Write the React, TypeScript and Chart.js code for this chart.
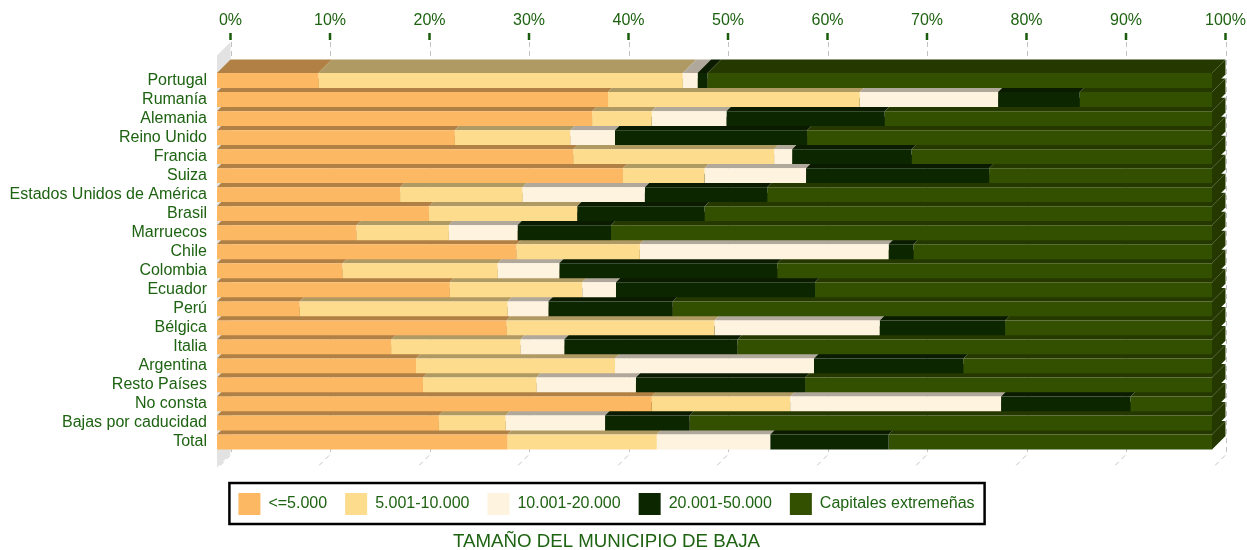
import React, { useEffect, useRef } from 'react';
import { Chart, registerables } from 'chart.js';

Chart.register(...registerables);

const categories = [
  'Portugal', 'Rumanía', 'Alemania', 'Reino Unido', 'Francia', 'Suiza',
  'Estados Unidos de América', 'Brasil', 'Marruecos', 'Chile', 'Colombia',
  'Ecuador', 'Perú', 'Bélgica', 'Italia', 'Argentina', 'Resto Países',
  'No consta', 'Bajas por caducidad', 'Total',
];

const seriesNames = ['<=5.000', '5.001-10.000', '10.001-20.000', '20.001-50.000', 'Capitales extremeñas'];

const hasta5000 = [10.2, 39.3, 37.7, 23.9, 35.8, 40.8, 18.4, 21.3, 14.0, 30.1, 12.6, 23.4, 8.3, 29.1, 17.5, 20.0, 20.7, 43.7, 22.3, 29.2];
const de5001a10000 = [36.6, 25.3, 6.0, 11.6, 20.2, 8.2, 12.3, 14.9, 9.3, 12.4, 15.6, 13.3, 20.9, 20.9, 13.0, 20.0, 11.4, 13.9, 6.7, 15.0];
const de10001a20000 = [1.5, 13.9, 7.5, 4.5, 1.8, 10.2, 12.3, 0.0, 6.9, 25.0, 6.2, 3.4, 4.1, 16.6, 4.4, 20.0, 10.0, 21.2, 10.0, 11.4];
const de20001a50000 = [1.0, 8.2, 15.9, 19.3, 12.0, 18.4, 12.3, 12.8, 9.4, 2.5, 21.9, 20.0, 12.5, 12.6, 17.4, 15.0, 17.0, 13.0, 8.5, 11.9];
const capitales = [50.7, 13.3, 32.9, 40.7, 30.2, 22.4, 44.7, 51.0, 60.4, 30.0, 43.7, 39.9, 54.2, 20.8, 47.7, 25.0, 40.9, 8.2, 52.5, 32.5];

const xTickValues = [0, 10, 20, 30, 40, 50, 60, 70, 80, 90, 100];

const frontColors = ['#FDB863', '#FEDC8E', '#FEF3DF', '#0C2600', '#334F00'];
const topColors = ['#B08044', '#B09A63', '#B0A99B', '#0A1B00', '#243800'];
const sideColor = '#243800';
const textGreen = '#1e6312';
const tickGreen = '#1a5c0c';
const FONT = "'Liberation Sans', Arial, Helvetica, sans-serif";
const D = 13.5;

const depthPlugin = {
  id: 'depth3d',
  beforeDatasetsDraw(chart: any) {
    const { ctx, chartArea } = chart;
    const xs = chart.scales.x;
    const backTop = chartArea.top - 29;
    const backBottom = chartArea.bottom + 2.5;
    ctx.save();
    // left wall
    ctx.fillStyle = '#e2e2e2';
    ctx.beginPath();
    ctx.moveTo(chartArea.left, backTop + D);
    ctx.lineTo(chartArea.left + D, backTop);
    ctx.lineTo(chartArea.left + D, backBottom);
    ctx.lineTo(chartArea.left, backBottom + D);
    ctx.closePath();
    ctx.fill();
    // back wall grid + floor lines
    ctx.strokeStyle = '#c2c2c2';
    ctx.lineWidth = 1;
    ctx.setLineDash([5, 4]);
    xs.ticks.forEach((t: any) => {
      const x = Math.round(xs.getPixelForValue(t.value) + D) + 0.5;
      ctx.beginPath();
      ctx.moveTo(x, backTop);
      ctx.lineTo(x, backBottom);
      ctx.lineTo(x - D, backBottom + D);
      ctx.stroke();
    });
    ctx.setLineDash([]);
    // tick marks
    ctx.fillStyle = tickGreen;
    xs.ticks.forEach((t: any) => {
      const x = xs.getPixelForValue(t.value) + D;
      ctx.fillRect(x - 1.25, chartArea.top - 38, 2.5, 7);
    });
    // top faces
    const nds = chart.data.datasets.length;
    for (let di = 0; di < nds; di++) {
      const meta = chart.getDatasetMeta(di);
      meta.data.forEach((el: any) => {
        const p = el.getProps(['x', 'y', 'base', 'height'], true);
        const l = Math.min(p.x, p.base);
        const r = Math.max(p.x, p.base);
        if (r - l < 0.05) return;
        const t = p.y - p.height / 2;
        ctx.fillStyle = topColors[di];
        ctx.beginPath();
        ctx.moveTo(l, t);
        ctx.lineTo(r, t);
        ctx.lineTo(r + D, t - D);
        ctx.lineTo(l + D, t - D);
        ctx.closePath();
        ctx.fill();
      });
    }
    // right faces (last segment)
    const lastMeta = chart.getDatasetMeta(nds - 1);
    lastMeta.data.forEach((el: any) => {
      const p = el.getProps(['x', 'y', 'base', 'height'], true);
      const r = Math.max(p.x, p.base);
      const t = p.y - p.height / 2;
      const b = p.y + p.height / 2;
      ctx.fillStyle = sideColor;
      ctx.beginPath();
      ctx.moveTo(r, t);
      ctx.lineTo(r + D, t - D);
      ctx.lineTo(r + D, b - D);
      ctx.lineTo(r, b);
      ctx.closePath();
      ctx.fill();
    });
    ctx.restore();
  },
};

const legendBoxPlugin = {
  id: 'legendBox',
  afterDraw(chart: any) {
    const lg = chart.legend;
    const hb = lg && lg.legendHitBoxes;
    if (!hb || !hb.length) return;
    let l = Infinity, r = -Infinity, t = Infinity, b = -Infinity;
    hb.forEach((h: any) => {
      l = Math.min(l, h.left);
      r = Math.max(r, h.left + h.width);
      t = Math.min(t, h.top);
      b = Math.max(b, h.top + h.height);
    });
    const ctx = chart.ctx;
    ctx.save();
    ctx.strokeStyle = '#000000';
    ctx.lineWidth = 2.5;
    ctx.strokeRect(l - 9, t - 10, r - l + 19, b - t + 19);
    ctx.restore();
  },
};

export default function App() {
  const ref = useRef<HTMLCanvasElement | null>(null);

  useEffect(() => {
    if (!ref.current) return;
    const seriesData = [hasta5000, de5001a10000, de10001a20000, de20001a50000, capitales];
    const chart = new Chart(ref.current, {
      type: 'bar',
      data: {
        labels: categories,
        datasets: seriesData.map((d, i) => ({
          label: seriesNames[i],
          data: d,
          backgroundColor: frontColors[i],
          borderWidth: 0,
          barPercentage: 0.78,
          categoryPercentage: 1,
          stack: 's',
        })),
      },
      options: {
        indexAxis: 'y',
        responsive: false,
        maintainAspectRatio: false,
        animation: false,
        devicePixelRatio: 1,
        events: [],
        font: { family: FONT, size: 16 },
        layout: { padding: { left: 1, right: 35, top: 0, bottom: 0 } },
        scales: {
          x: {
            type: 'linear',
            position: 'top',
            stacked: true,
            min: 0,
            max: 100,
            afterBuildTicks: (s: any) => { s.ticks = xTickValues.map((v) => ({ value: v })); },
            ticks: {
              autoSkip: false,
              maxRotation: 0,
              minRotation: 0,
              labelOffset: D,
              padding: 41,
              color: textGreen,
              font: { family: FONT, size: 16 },
              callback: (v: any) => v + '%',
            },
            grid: { display: false, drawTicks: false },
            border: { display: false },
            afterFit: (s: any) => { s.height = 71; s.paddingLeft = 0; s.paddingRight = 0; },
          },
          y: {
            type: 'category',
            stacked: true,
            ticks: {
              autoSkip: false,
              padding: 10,
              color: textGreen,
              font: { family: FONT, size: 16 },
            },
            grid: { display: false, drawTicks: false },
            border: { display: false },
            afterFit: (s: any) => { s.width = 216; s.paddingTop = 0; s.paddingBottom = 0; },
          },
          floor: {
            type: 'linear',
            axis: 'x',
            position: 'bottom',
            min: 0,
            max: 100,
            display: true,
            ticks: { display: false },
            grid: { display: false, drawTicks: false },
            border: { display: false },
            afterFit: (s: any) => { s.height = 23.5; s.paddingLeft = 0; s.paddingRight = 0; },
          },
        } as any,
        plugins: {
          tooltip: { enabled: false },
          legend: {
            position: 'bottom',
            labels: {
              boxWidth: 22,
              boxHeight: 22,
              padding: 18,
              color: textGreen,
              font: { family: FONT, size: 16 },
            },
          },
          title: {
            display: true,
            position: 'bottom',
            text: 'TAMAÑO DEL MUNICIPIO DE BAJA',
            color: textGreen,
            font: { family: FONT, size: 18.7, weight: 'normal', lineHeight: 0.855 },
            padding: { top: 9, bottom: 0 },
          },
        },
      } as any,
      plugins: [depthPlugin, legendBoxPlugin],
    });
    return () => chart.destroy();
  }, []);

  return (
    <div style={{ position: 'absolute', left: 0, top: 0, width: 1247, height: 550, background: '#ffffff' }}>
      <canvas ref={ref} width={1247} height={550} style={{ display: 'block' }} />
    </div>
  );
}
